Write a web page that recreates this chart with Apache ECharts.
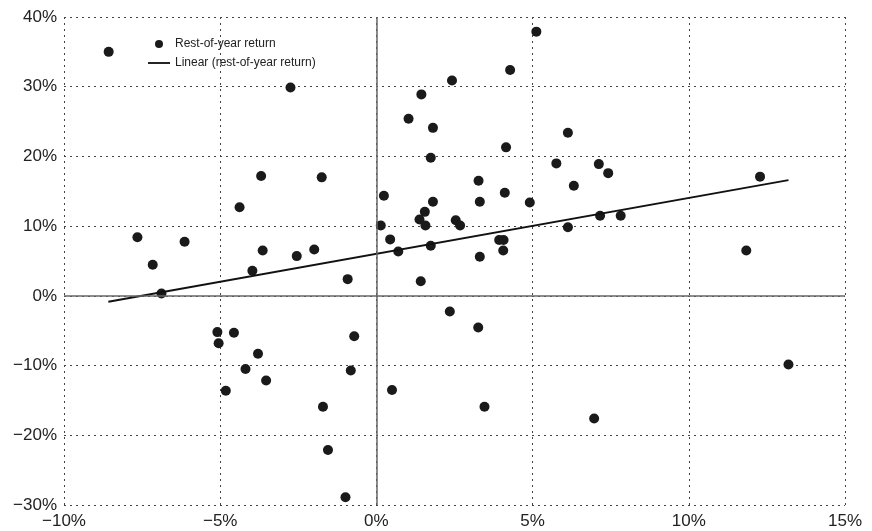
<!DOCTYPE html>
<html>
<head>
<meta charset="utf-8">
<script src="https://cdn.jsdelivr.net/npm/echarts@6/dist/echarts.min.js"></script>
<style>
  html, body { margin: 0; padding: 0; background: #fff; }
  #chart { width: 872px; height: 531px; }
</style>
</head>
<body>
<div id="chart"></div>
<script>
// Return over the first period (%) vs. return over the rest of the year (%)
const firstPeriodReturn = [
  -8.57, -2.75, -3.69, 5.12, 4.28, 2.42, 1.44, 1.03, 1.81, 6.13,
  4.15, 1.74, 5.76, -1.75, 3.27, 7.12, 7.42, 12.28, -4.38, -7.65,
  -6.14, -7.16, -3.64, -2.55, -3.97, -6.88, -5.09, -4.56, -5.05, 6.32,
  0.24, 3.31, 4.11, 1.81, 4.91, 1.55, 1.38, 1.57, 2.54, 2.68,
  0.14, 6.13, 0.44, 3.93, 4.07, 4.06, 1.74, 0.70, -1.99, 3.31,
  -0.92, 1.42, 2.35, 3.26, -0.71, 7.16, 7.82, 11.84, -3.79, -4.19,
  -3.53, -4.82, -0.82, 0.50, -1.71, 3.46, -1.55, -0.99, 6.97, 13.19
];
const restOfYearReturn = [
  35.0, 29.9, 17.2, 37.9, 32.4, 30.9, 28.9, 25.4, 24.1, 23.4,
  21.3, 19.8, 19.0, 17.0, 16.5, 18.9, 17.6, 17.1, 12.7, 8.4,
  7.75, 4.45, 6.5, 5.7, 3.6, 0.33, -5.2, -5.3, -6.8, 15.8,
  14.35, 13.5, 14.8, 13.5, 13.4, 12.05, 10.95, 10.1, 10.85, 10.1,
  10.1, 9.85, 8.1, 8.0, 8.0, 6.5, 7.2, 6.36, 6.65, 5.6,
  2.4, 2.1, -2.25, -4.55, -5.8, 11.5, 11.5, 6.5, -8.3, -10.5,
  -12.15, -13.6, -10.7, -13.5, -15.9, -15.9, -22.1, -28.9, -17.6, -9.85
];
// Linear trendline end points (x, y)
const trendX = [-8.58, 13.19];
const trendY = [-0.86, 16.6];

const xTicks = { min: -10, max: 15, step: 5 };
const yTicks = { min: -30, max: 40, step: 10 };

const scatterData = firstPeriodReturn.map((x, i) => [x, restOfYearReturn[i]]);
const trendData = trendX.map((x, i) => [x, trendY[i]]);

const pct = v => (v < 0 ? '\u2212' + Math.abs(v) : String(v)) + '%';
const font = 'Liberation Sans, Arial, Helvetica, sans-serif';
const gridLine = { show: true, lineStyle: { color: '#444', width: 1, type: [2, 4] } };

const chart = echarts.init(document.getElementById('chart'), null, { renderer: 'canvas' });
chart.setOption({
  backgroundColor: '#fff',
  animation: false,
  grid: { left: 64, right: 27, top: 17, bottom: 26, containLabel: false },
  legend: {
    left: 148, top: 38, padding: 0, orient: 'vertical',
    itemWidth: 22, itemHeight: 8, itemGap: 7,
    textStyle: { fontFamily: font, fontSize: 12, color: '#222' },
    data: [
      { name: 'Rest-of-year return', icon: 'circle' },
      { name: 'Linear (rest-of-year return)', icon: 'path://M0,0 L24,0 L24,2 L0,2 Z' }
    ]
  },
  xAxis: {
    type: 'value', min: xTicks.min, max: xTicks.max, interval: xTicks.step,
    axisLine: { show: false }, axisTick: { show: false },
    axisLabel: { formatter: pct, fontFamily: font, fontSize: 17, color: '#222', margin: 8 },
    splitLine: gridLine
  },
  yAxis: {
    type: 'value', min: yTicks.min, max: yTicks.max, interval: yTicks.step,
    axisLine: { show: false }, axisTick: { show: false },
    axisLabel: { formatter: pct, fontFamily: font, fontSize: 17, color: '#222', margin: 7 },
    splitLine: gridLine
  },
  series: [
    {
      name: 'Rest-of-year return', type: 'scatter',
      data: scatterData, symbol: 'circle', symbolSize: 10,
      itemStyle: { color: '#1a1a1a', opacity: 1 }, z: 3,
      markLine: {
        silent: true, symbol: 'none', label: { show: false },
        lineStyle: { color: '#666', width: 1.5, type: 'solid' },
        data: [{ xAxis: 0 }, { yAxis: 0 }]
      }
    },
    {
      name: 'Linear (rest-of-year return)', type: 'line',
      data: trendData, symbol: 'none', showSymbol: false,
      lineStyle: { color: '#111', width: 2 }, itemStyle: { color: '#111' }, z: 4
    }
  ]
});
</script>
</body>
</html>
